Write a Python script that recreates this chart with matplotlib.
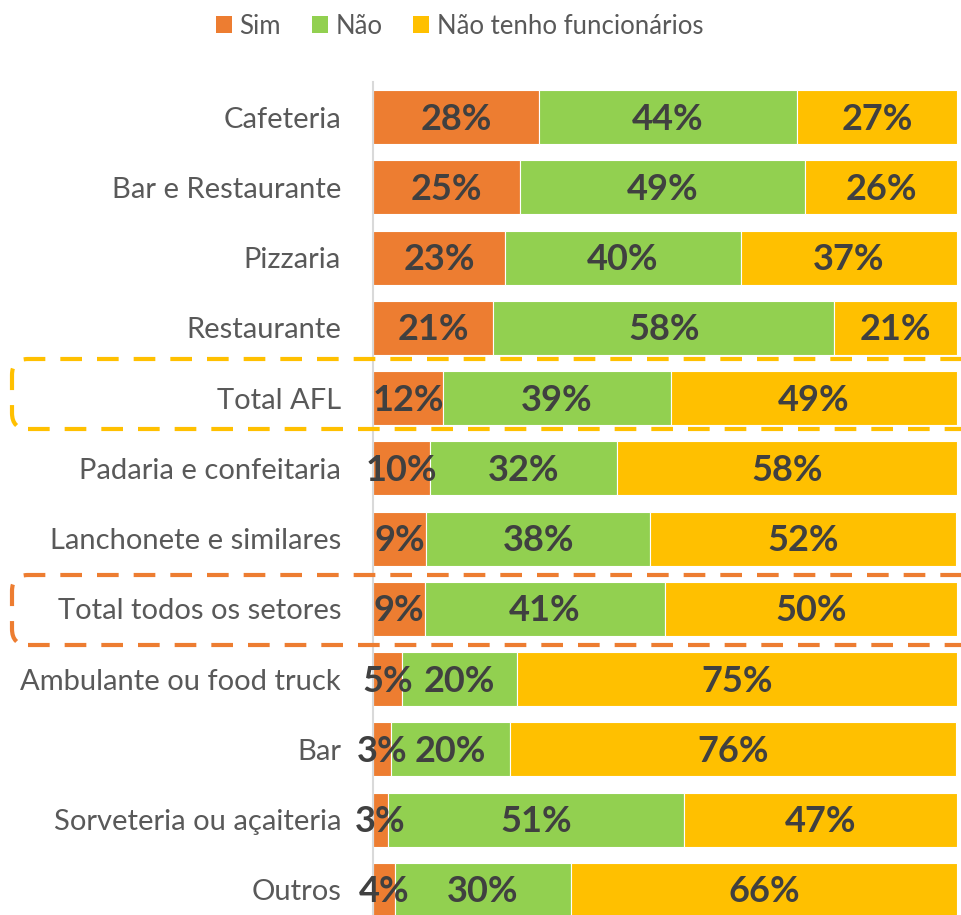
import matplotlib
matplotlib.use("Agg")
import matplotlib.pyplot as plt
from matplotlib.patches import FancyBboxPatch, Patch
from matplotlib.transforms import IdentityTransform

categories = ["Cafeteria", "Bar e Restaurante", "Pizzaria", "Restaurante", "Total AFL",
              "Padaria e confeitaria", "Lanchonete e similares", "Total todos os setores",
              "Ambulante ou food truck", "Bar", "Sorveteria ou açaiteria", "Outros"]
sim = [28.4, 25.2, 22.6, 20.6, 12.0, 9.8, 9.1, 8.9, 5.0, 3.1, 2.6, 3.8]
nao = [44.2, 48.8, 40.4, 58.4, 39.0, 32.0, 38.4, 41.1, 19.7, 20.4, 50.6, 30.1]
ntf = [27.4, 26.0, 37.0, 21.0, 49.0, 58.2, 52.4, 50.0, 75.3, 76.4, 46.8, 66.1]
series_names = ["Sim", "Não", "Não tenho funcionários"]
colors = ["#ED7D31", "#92D050", "#FFC000"]

plt.rcParams['font.family'] = ['Lato', 'DejaVu Sans']

W, H = 961, 915
fig = plt.figure(figsize=(W / 100, H / 100), dpi=100)
ax = fig.add_axes([373 / W, 1 - 925 / H, 584 / W, 843 / H])

y = list(range(len(categories)))
left = [0.0] * len(categories)
for vals, col in zip([sim, nao, ntf], colors):
    ax.barh(y, vals, left=left, height=0.77, color=col, edgecolor="white", linewidth=0.8, zorder=2)
    for yi, l, v in zip(y, left, vals):
        ax.text(l + v / 2, yi + 0.03, f"{v:.0f}%", ha="center", va="center", fontsize=26,
                fontweight="bold", color="#404040", zorder=3)
    left = [a + b for a, b in zip(left, vals)]

ax.set_xlim(0, 100)
ax.set_ylim(len(categories) - 0.5, -0.5)
ax.set_yticks(y)
ax.set_yticklabels(categories, fontsize=21, color="#595959")
ax.tick_params(axis="y", length=0, pad=23)
ax.set_xticks([])
for s in ["top", "right", "bottom"]:
    ax.spines[s].set_visible(False)
ax.spines["left"].set_color("#D9D9D9")
ax.spines["left"].set_linewidth(1.5)

handles = [Patch(facecolor=c, edgecolor="none") for c in colors]
fig.legend(handles, series_names, loc="center", bbox_to_anchor=(459.5 / W, 1 - 26 / H),
           ncol=3, frameon=False, fontsize=18.5, labelcolor="#595959",
           handlelength=0.62, handleheight=0.62, handletextpad=0.3, columnspacing=1.2)

# dashed highlight boxes (pixel coordinates, origin bottom-left)
for (top, bot, col) in [(359, 429, "#FFC000"), (575, 645, "#ED7D31")]:
    box = FancyBboxPatch((12, H - bot), 1000, bot - top,
                         boxstyle="round,pad=0,rounding_size=16",
                         transform=IdentityTransform(), fill=False,
                         edgecolor=col, linewidth=3, linestyle=(0, (5.2, 3.6)), zorder=10)
    fig.add_artist(box)

fig.savefig("out.png", dpi=100)
